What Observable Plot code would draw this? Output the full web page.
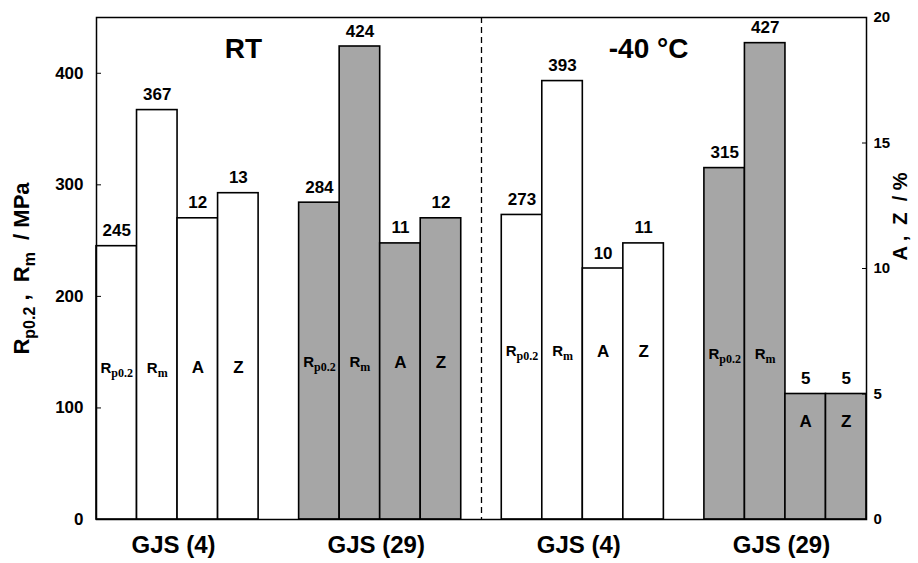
<!DOCTYPE html>
<html><head><meta charset="utf-8">
<script src="https://cdn.jsdelivr.net/npm/d3@7"></script>
<script src="https://cdn.jsdelivr.net/npm/@observablehq/plot@0.6"></script>
<style>body{margin:0;background:#fff} #chart{width:918px;height:563px}</style>
</head><body><div id="chart"></div>
<script>
const groups = ["GJS (4)", "GJS (29)", "GJS (4)", "GJS (29)"];
const conditions = ["RT", "RT", "-40 °C", "-40 °C"];
const properties = ["Rp0.2", "Rm", "A", "Z"];
const rp02 = [245, 284, 273, 315];
const rm = [367, 424, 393, 427];
const elongationA = [12, 11, 10, 5];
const reductionZ = [13, 12, 11, 5];
const leftTicks = [0, 100, 200, 300, 400];
const rightTicks = [0, 5, 10, 15, 20];
const leftMax = 450, rightMax = 20;
const leftTitle = "Rp0.2 ,  Rm  / MPa";
const rightTitle = "A ,  Z  / %";

const k = leftMax / rightMax;
const slots = [];
const rows = [];
groups.forEach((g, gi) => {
  const vals = [rp02[gi], rm[gi], elongationA[gi], reductionZ[gi]];
  properties.forEach((p, pi) => {
    const slot = `${gi}-${pi}`;
    slots.push(slot);
    rows.push({gi, group: g, condition: conditions[gi], property: p, slot,
      value: vals[pi], plotValue: pi < 2 ? vals[pi] : vals[pi] * k});
  });
  if (gi < groups.length - 1) slots.push(`gap${gi}`);
});

const W = 918, H = 563, mL = 96, mR = 52, mT = 17, mB = 44;
const bw = (W - mL - mR) / slots.length;
const innerLevel = [136, 141, 151, 148];
const font = "'Liberation Sans', Arial, sans-serif";
const gray = "#a6a6a6";

const groupLabels = groups.map((g, gi) => ({g, slot: `${gi}-1`}));
const condLabels = [{c: conditions[0], slot: "0-3"}, {c: conditions[2], slot: "2-3"}];

const chart = Plot.plot({
  width: W, height: H,
  marginLeft: mL, marginRight: mR, marginTop: mT, marginBottom: mB,
  style: {fontFamily: font, background: "white", color: "black"},
  x: {type: "band", domain: slots, padding: 0, round: false, axis: null},
  y: {domain: [0, leftMax]},
  marks: [
    Plot.barY(rows.filter(d => d.group === "GJS (4)"), {x: "slot", y: "plotValue", fill: "white", stroke: "black", strokeWidth: 1.6}),
    Plot.barY(rows.filter(d => d.group !== "GJS (4)"), {x: "slot", y: "plotValue", fill: gray, stroke: "black", strokeWidth: 1.6}),
    Plot.ruleX(["gap1"], {x: d => d, stroke: "black", strokeWidth: 1.3, strokeDasharray: "6,4"}),
    Plot.frame({stroke: "black", strokeWidth: 1.5}),
    // left axis
    Plot.axisY(leftTicks, {anchor: "left", tickSize: 5, dx: 5, tickFormat: () => "", label: null}),
    Plot.axisY(leftTicks, {anchor: "left", tickSize: 0, tickPadding: 13, fontSize: 17, fontWeight: "bold", label: null}),
    // right axis
    Plot.axisY(rightTicks.map(v => v * k), {anchor: "right", tickSize: 5, dx: -5, tickFormat: () => "", label: null}),
    Plot.axisY(rightTicks.map(v => v * k), {anchor: "right", tickSize: 0, tickPadding: 7, fontSize: 15, fontWeight: "bold", label: null,
      tickFormat: d => String(Math.round(d / k))}),
    // value labels
    Plot.text(rows, {x: "slot", y: "plotValue", text: d => String(d.value), lineAnchor: "bottom", dy: -10,
      fontSize: 17, fontWeight: "bold", fill: "black"}),
    // inner property labels
    Plot.text(rows, {x: "slot", y: d => Math.min(innerLevel[d.gi], d.plotValue * 0.78), text: "property",
      lineAnchor: "middle", fontSize: d => d.property.length > 1 ? 15 : 17, fontWeight: "bold", fill: "black"}),
    // group labels
    Plot.text(groupLabels, {x: "slot", text: "g", frameAnchor: "bottom", lineAnchor: "bottom", dy: 33, dx: bw / 2 - 4,
      fontSize: 24, fontWeight: "bold", fill: "black"}),
    // condition labels
    Plot.text(condLabels, {x: "slot", text: "c", frameAnchor: "top", lineAnchor: "bottom", dy: 40, dx: 5,
      fontSize: 28, fontWeight: "bold", fill: "black"}),
    // axis titles
    Plot.text([leftTitle], {frameAnchor: "left", rotate: -90, dx: -75, text: d => d, fontSize: 22, fontWeight: "bold",
      textAnchor: "middle", lineAnchor: "middle", fill: "black"}),
    Plot.text([rightTitle], {frameAnchor: "right", rotate: -90, dx: 34, dy: -52, text: d => d, fontSize: 20, fontWeight: "bold",
      textAnchor: "middle", lineAnchor: "middle", fill: "black"})
  ]
});

const ns = "http://www.w3.org/2000/svg";
function subscriptify(textEl, subFont, subSize, shiftPx) {
  const s = textEl.textContent;
  const parts = s.split(/(Rp0\.2|Rm)/).filter(p => p !== "");
  while (textEl.firstChild) textEl.removeChild(textEl.firstChild);
  let shifted = false;
  for (const p of parts) {
    if (p === "Rp0.2" || p === "Rm") {
      const r = document.createElementNS(ns, "tspan");
      r.textContent = "R";
      if (shifted) { r.setAttribute("dy", -shiftPx); shifted = false; }
      textEl.appendChild(r);
      const sub = document.createElementNS(ns, "tspan");
      sub.textContent = p.slice(1);
      sub.setAttribute("font-size", subSize);
      if (subFont) sub.setAttribute("font-family", subFont);
      sub.setAttribute("dy", shiftPx);
      textEl.appendChild(sub);
      shifted = true;
    } else {
      const t = document.createElementNS(ns, "tspan");
      t.textContent = p;
      if (shifted) { t.setAttribute("dy", -shiftPx); shifted = false; }
      textEl.appendChild(t);
    }
  }
}
chart.querySelectorAll("text").forEach(t => {
  const s = t.textContent;
  if (s === "Rp0.2" || s === "Rm") subscriptify(t, "'Liberation Serif', serif", 12, 4);
  else if (s === leftTitle) subscriptify(t, null, 16, 6);
});
chart.style.whiteSpace = "pre";
document.getElementById("chart").appendChild(chart);
</script>
</body></html>
